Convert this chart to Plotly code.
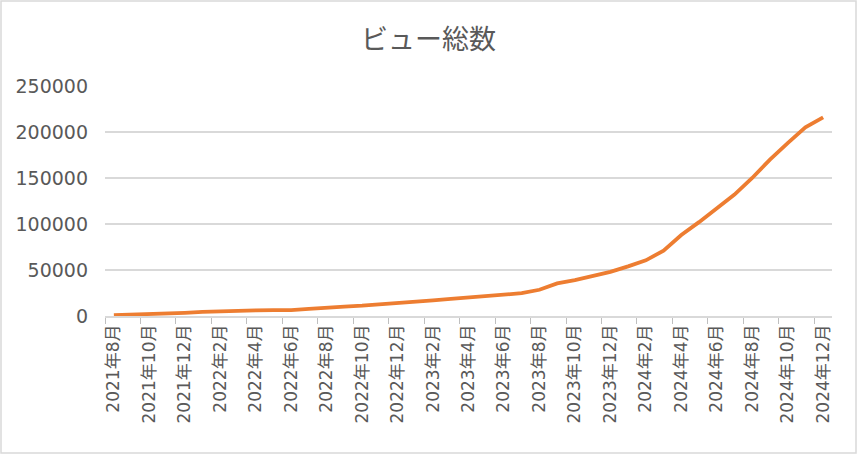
import plotly.graph_objects as go

# monthly totals, 2021-08 .. 2024-12
months = []
for y, m in [(2021, m) for m in range(8, 13)] + [(yy, mm) for yy in (2022, 2023, 2024) for mm in range(1, 13)]:
    months.append(f"{y}年{m}月")

total_views = [
    800, 1300, 1800, 2700, 3500,                                   # 2021
    4500, 5300, 5900, 6200, 6300, 6400, 7800, 9300, 10200, 11200, 12400, 13600,   # 2022
    15200, 17000, 18500, 20000, 21300, 22600, 24800, 28500, 35500, 39000, 43500, 48000,  # 2023
    54000, 60500, 71000, 88000, 102000, 117000, 132000, 150000, 170000, 188000, 205000, 216000,  # 2024
]

W, H = 857, 454
ML, MR, MT, MB = 105, 25, 86, 138
pw, ph = W - ML - MR, H - MT - MB

fig = go.Figure(go.Scatter(
    x=months,
    y=total_views,
    mode="lines",
    line=dict(color="#ED7D31", width=3.8),
    hoverinfo="x+y",
))

fig.update_layout(
    width=W, height=H,
    margin=dict(l=ML, r=MR, t=MT, b=MB),
    paper_bgcolor="white",
    plot_bgcolor="white",
    showlegend=False,
    font=dict(family="DejaVu Sans, Noto Sans CJK JP", color="#595959"),
    title=dict(
        text="ビュー総数",
        font=dict(family="Noto Sans CJK JP", size=27, color="#595959"),
        x=0.5, xanchor="center",
        y=1 - 40 / H, yref="container", yanchor="middle",
    ),
    # outer chart border
    shapes=[dict(
        type="rect", xref="paper", yref="paper",
        x0=-(ML - 1) / pw, x1=1 + (MR - 1) / pw,
        y0=-(MB - 1) / ph, y1=1 + (MT - 1) / ph,
        line=dict(color="#D9D9D9", width=1.5),
    )],
)

fig.update_xaxes(
    type="category",
    range=[-0.5, len(months) - 0.5],
    tickmode="linear", tick0=0, dtick=2,
    tickson="boundaries",
    ticks="outside", ticklen=6, tickcolor="#BFBFBF",
    showline=True, linecolor="#D9D9D9", linewidth=1.5,
    showgrid=False,
    tickangle=-90,
    tickfont=dict(size=17, color="#595959"),
)

fig.update_yaxes(
    range=[0, 250000],
    dtick=50000,
    tickformat="d",
    showgrid=True, gridcolor="#D9D9D9", gridwidth=1.5,
    zeroline=False,
    showline=False,
    ticks="",
    ticklabelstandoff=16,
    tickfont=dict(size=19, color="#595959"),
)

# drop the browser's default page margin so the chart sits at the window edge
fig.write_html(
    "out.html",
    config={"displayModeBar": False},
    post_script="document.body.style.margin='0';",
)
